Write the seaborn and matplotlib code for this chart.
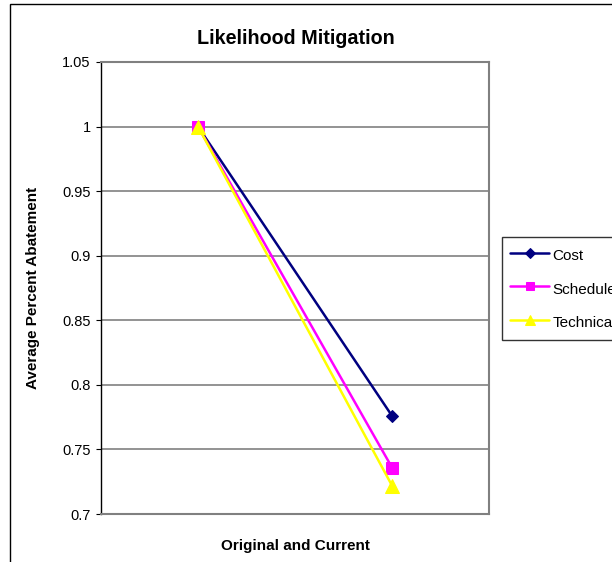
import matplotlib
matplotlib.use("Agg")
import matplotlib.pyplot as plt
import seaborn as sns
import pandas as pd
from matplotlib.patches import Rectangle

categories = ["Original", "Current"]
cost = [1.0, 0.776]
schedule = [1.0, 0.736]
technical = [1.0, 0.722]
series_names = ["Cost", "Schedule", "Technical"]
yticks = [0.7, 0.75, 0.8, 0.85, 0.9, 0.95, 1.0, 1.05]
ytick_labels = ["0.7", "0.75", "0.8", "0.85", "0.9", "0.95", "1", "1.05"]

sns.set_theme(style="white")
plt.rcParams['font.family'] = ['Liberation Sans', 'DejaVu Sans']
plt.rcParams['text.color'] = 'black'
plt.rcParams['axes.labelcolor'] = 'black'
plt.rcParams['ytick.color'] = 'black'
plt.rcParams['xtick.color'] = 'black'

rows = []
for name, vals in zip(series_names, [cost, schedule, technical]):
    for c, v in zip(categories, vals):
        rows.append({"Phase": c, "Value": v, "Series": name})
df = pd.DataFrame(rows)

fig = plt.figure(figsize=(6.12, 5.62), dpi=100)
ax = fig.add_axes([101/612, 48/562, 388/612, 452/562])

styles = {
    "Cost": dict(color="#000080", marker="D", ms=6.5, lw=1.8),
    "Schedule": dict(color="#FF00FF", marker="s", ms=8.5, lw=1.8),
    "Technical": dict(color="#FFFF00", marker="^", ms=9.5, lw=1.8),
}
for name in series_names:
    st = styles[name]
    sns.lineplot(data=df[df["Series"] == name], x="Phase", y="Value", ax=ax,
                 color=st["color"], marker=st["marker"], markersize=st["ms"],
                 markeredgecolor=st["color"], linewidth=st["lw"], label=name,
                 sort=False, legend=False)

ax.set_xlim(-0.5, 1.5)
ax.set_ylim(0.7, 1.05)
ax.set_yticks(yticks)
ax.set_yticklabels(ytick_labels, fontsize=10.5, color="black")
ax.set_xticks([])
ax.grid(axis="y", color="#808080", linewidth=1.2)
ax.set_axisbelow(True)
for s in ["top", "right", "bottom"]:
    ax.spines[s].set_color("#808080")
    ax.spines[s].set_linewidth(1.5)
ax.spines["left"].set_color("black")
ax.spines["left"].set_linewidth(1.0)
ax.tick_params(axis="y", which="both", left=True, length=3.5, width=0.8,
               color="black", pad=4)

ax.set_xlabel("Original and Current", fontsize=11, fontweight="bold", color="black")
ax.set_ylabel("Average Percent Abatement", fontsize=11, fontweight="bold", color="black")
ax.xaxis.set_label_coords(0.5, -0.055)
ax.yaxis.set_label_coords(-0.157, 0.5)

fig.text(296/612, 1 - 38.5/562, "Likelihood Mitigation", ha="center", va="center",
         fontsize=14.2, fontweight="bold", color="black")

handles, labels = ax.get_legend_handles_labels()
leg = fig.legend(handles, labels, loc="upper left",
                 bbox_to_anchor=(502/612, 1 - 237/562),
                 fontsize=11, frameon=True, fancybox=False,
                 edgecolor="black", handlelength=2.5, handleheight=1.6,
                 labelspacing=0.9, handletextpad=0.26, borderpad=0.55,
                 borderaxespad=0, markerscale=0.75)
leg.get_frame().set_linewidth(1.0)
for t in leg.get_texts():
    t.set_color("black")

fig.patches.append(Rectangle((10/612, -0.1), 1.2, 1 - 4/562 + 0.1,
                             transform=fig.transFigure, fill=False,
                             edgecolor="black", linewidth=1.0, clip_on=False))

fig.savefig("out.png", dpi=100, facecolor="white")
